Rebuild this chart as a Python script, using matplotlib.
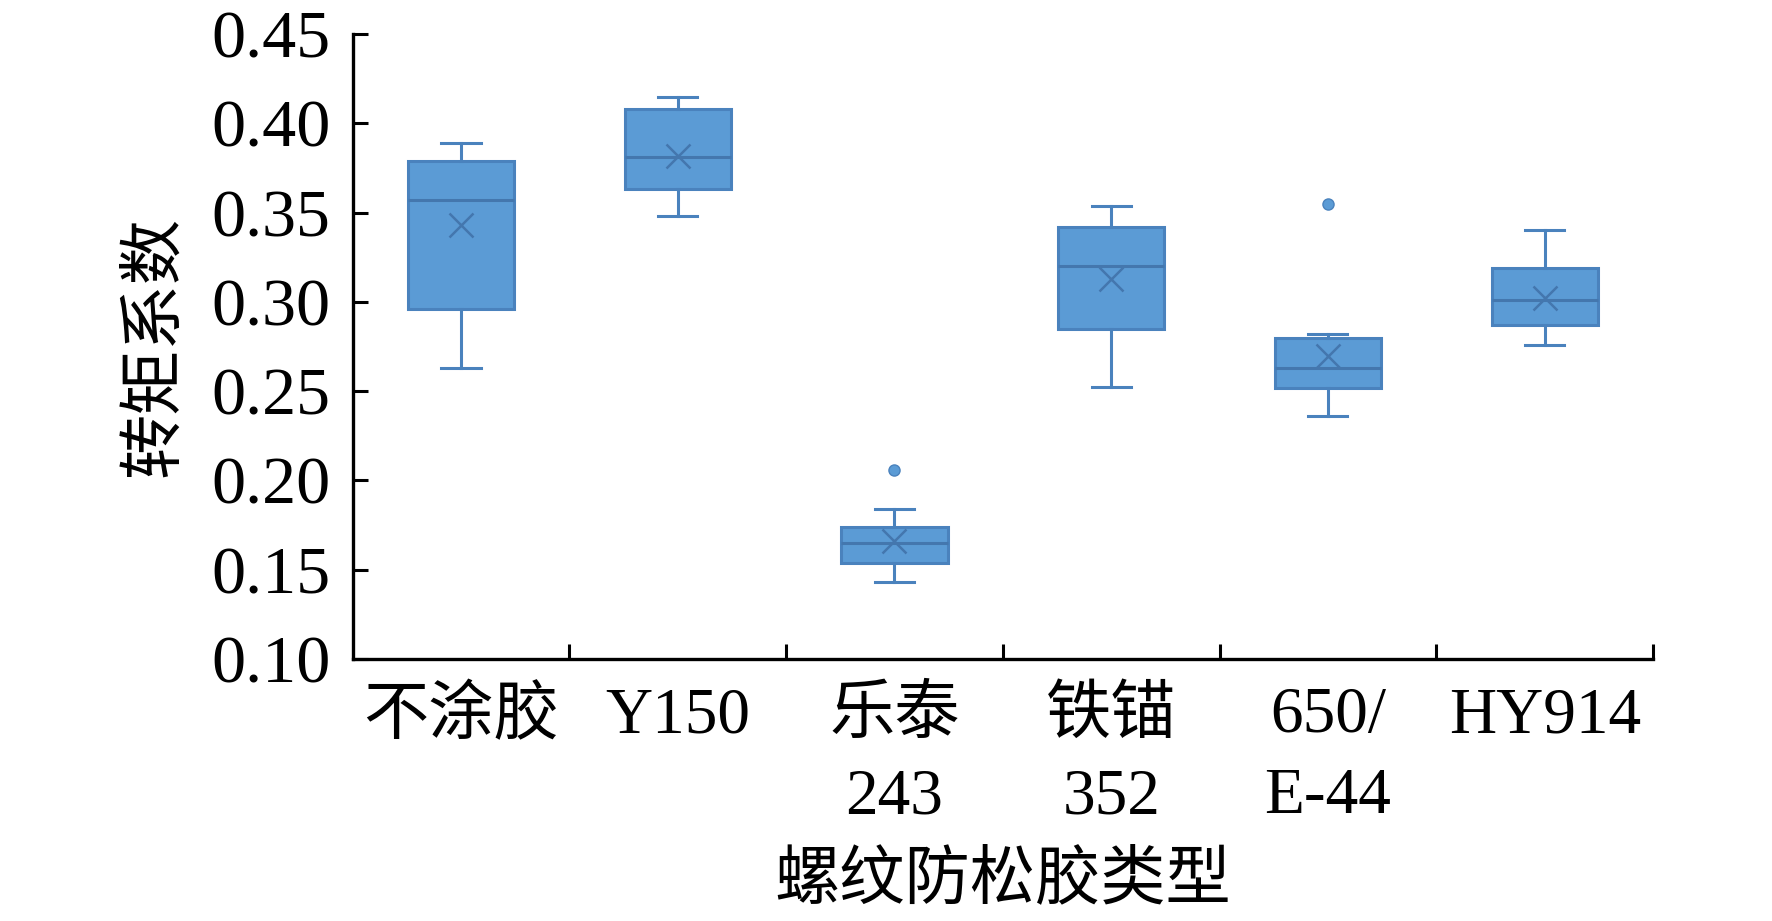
import matplotlib
matplotlib.use("Agg")
import matplotlib.pyplot as plt
from matplotlib.ticker import FixedLocator, NullFormatter

plt.rcParams['font.family'] = ['Liberation Serif', 'Noto Sans CJK SC', 'DejaVu Sans']

categories = ['不涂胶', 'Y150', '乐泰\n243', '铁锚\n352', '650/\nE-44', 'HY914']
whislo = [0.263, 0.348, 0.143, 0.2525, 0.236, 0.276]
q1     = [0.296, 0.363, 0.154, 0.285, 0.252, 0.287]
med    = [0.357, 0.381, 0.165, 0.320, 0.263, 0.301]
q3     = [0.379, 0.408, 0.174, 0.342, 0.280, 0.319]
whishi = [0.389, 0.415, 0.184, 0.354, 0.282, 0.3405]
means  = [0.343, 0.382, 0.166, 0.313, 0.270, 0.302]
fliers = [[], [], [0.206], [], [0.355], []]

yticks = [0.10, 0.15, 0.20, 0.25, 0.30, 0.35, 0.40, 0.45]

fill = '#5B9BD5'
edge = '#4A82BD'

fig = plt.figure(figsize=(17.72, 9.21), dpi=100)
ax = fig.add_axes([0.199, 0.2844, 0.7339, 0.6786])

stats = []
for i in range(len(categories)):
    stats.append(dict(label=categories[i], whislo=whislo[i], q1=q1[i], med=med[i],
                      q3=q3[i], whishi=whishi[i], mean=means[i], fliers=fliers[i]))

ax.bxp(stats, positions=range(1, len(categories) + 1), widths=0.49, patch_artist=True,
       showmeans=True, capwidths=0.18,
       boxprops=dict(facecolor=fill, edgecolor=edge, linewidth=2.2),
       medianprops=dict(color='#4477AE', linewidth=2.2),
       whiskerprops=dict(color=edge, linewidth=2.2),
       capprops=dict(color=edge, linewidth=2.2),
       meanprops=dict(marker='x', markeredgecolor='#4477AE', markersize=17, markeredgewidth=1.8),
       flierprops=dict(marker='o', markerfacecolor=fill, markeredgecolor=edge, markersize=8))

ax.set_xlim(0.5, 6.5)
ax.set_ylim(0.10, 0.45)
ax.set_yticks(yticks)
ax.set_yticklabels([f'{v:.2f}' for v in yticks])

ax.set_xticks(range(1, len(categories) + 1))
ax.set_xticklabels(categories, linespacing=1.47)
ax.xaxis.set_minor_locator(FixedLocator([1.5, 2.5, 3.5, 4.5, 5.5, 6.5]))
ax.xaxis.set_minor_formatter(NullFormatter())
ax.tick_params(axis='x', which='major', length=0, labelsize=47, pad=20)
ax.tick_params(axis='x', which='minor', direction='in', length=11, width=2.2)
ax.tick_params(axis='y', direction='in', length=11, width=2.2, labelsize=49, pad=16)

for s in ['top', 'right']:
    ax.spines[s].set_visible(False)
for s in ['left', 'bottom']:
    ax.spines[s].set_linewidth(2.4)

ax.set_xlabel('螺纹防松胶类型', fontsize=47, labelpad=17)
ax.set_ylabel('转矩系数', fontsize=47, labelpad=18)

fig.savefig('out.png', dpi=100, facecolor='white')
